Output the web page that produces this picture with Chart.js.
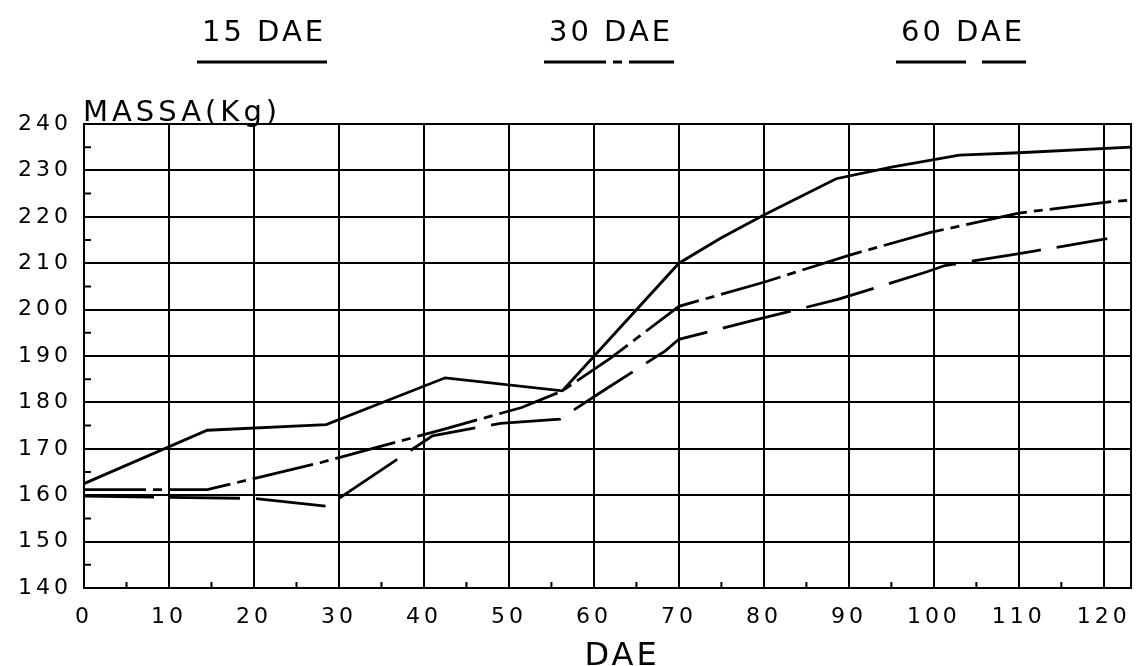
<!DOCTYPE html>
<html>
<head>
<meta charset="utf-8">
<script src="https://cdn.jsdelivr.net/npm/chart.js@4/dist/chart.umd.min.js"></script>
<style>
html, body { margin: 0; padding: 0; background: #fff; }
</style>
</head>
<body>
<canvas id="grafico" width="1141" height="666"></canvas>
<script>
// DIAS APOS EMERGENCIA (DAE) E MASSA (Kg) DE CADA CURVA
var dias15  = [0, 14.5, 28.5, 42.5, 56.3, 70, 75, 80, 88.5, 95, 103, 110, 123.2];
var massa15 = [162.5, 174, 175.2, 185.3, 182.5, 210, 215.5, 220.4, 228.2, 230.7, 233.3, 233.8, 235];

var dias30  = [0, 14.5, 28, 42.5, 51.5, 56.2, 62, 70, 80, 90, 99.5, 110, 121, 123.2];
var massa30 = [161.2, 161.2, 167.1, 174.3, 178.9, 182.4, 189.6, 200.7, 205.9, 211.7, 216.6, 220.8, 223.3, 223.6];

var dias60  = [0, 20, 28.7, 30.4, 41, 49, 56, 61, 68.4, 70, 78.4, 88.7, 99.1, 101.3, 109.5, 111.8, 120.4];
var massa60 = [159.8, 159.3, 157.6, 159.8, 172.8, 175.5, 176.4, 182.4, 191.1, 193.6, 197.5, 202.2, 208.1, 209.5, 211.9, 212.6, 215.3];

// ROTULOS DOS EIXOS
var ticksX = [0, 10, 20, 30, 40, 50, 60, 70, 80, 90, 100, 110, 120];
var ticksY = [140, 150, 160, 170, 180, 190, 200, 210, 220, 230, 240];
var legendas = ['15 DAE', '30 DAE', '60 DAE'];

function pontos(xs, ys) {
  return xs.map(function (x, i) { return {x: x, y: ys[i]}; });
}

Chart.defaults.font.family = 'DejaVu Sans';
Chart.defaults.color = '#000';

// textos, legenda, marcas menores e borda
var desenhoExtra = {
  id: 'desenhoExtra',
  beforeDraw: function (chart) {
    chart.ctx.letterSpacing = '4px';
  },
  afterDraw: function (chart) {
    var ctx = chart.ctx;
    var area = chart.chartArea;
    var sx = chart.scales.x, sy = chart.scales.y;
    ctx.save();
    ctx.strokeStyle = '#000';
    ctx.lineWidth = 2;
    ctx.setLineDash([]);
    ctx.strokeRect(area.left, area.top, area.right - area.left, area.bottom - area.top);

    // marcas menores
    ctx.beginPath();
    for (var v = 145; v < 240; v += 10) {
      var py = sy.getPixelForValue(v);
      ctx.moveTo(area.left, py);
      ctx.lineTo(area.left + 7, py);
    }
    for (var h = 5; h < 120; h += 10) {
      var px = sx.getPixelForValue(h);
      ctx.moveTo(px, area.bottom);
      ctx.lineTo(px, area.bottom - 6);
    }
    ctx.stroke();

    ctx.fillStyle = '#000';
    ctx.textBaseline = 'alphabetic';
    ctx.textAlign = 'left';
    ctx.letterSpacing = '4px';
    ctx.font = '29px "DejaVu Sans"';
    ctx.fillText('MASSA(Kg)', 83, 121);

    ctx.textAlign = 'center';
    ctx.letterSpacing = '3px';
    ctx.font = '32px "DejaVu Sans"';
    ctx.fillText('DAE', 622, 665);

    // LEGENDA
    var centros = [262, 609, 961];
    ctx.font = '29px "DejaVu Sans"';
    ctx.letterSpacing = '3px';
    chart.data.datasets.forEach(function (ds, i) {
      ctx.fillText(legendas[i], centros[i] + 2, 41);
      ctx.beginPath();
      ctx.lineWidth = 2.8;
      ctx.setLineDash(ds.borderDash || []);
      ctx.moveTo(centros[i] - 65, 62);
      ctx.lineTo(centros[i] + 65, 62);
      ctx.stroke();
    });
    ctx.restore();
  }
};

var grafico = new Chart(document.getElementById('grafico'), {
  type: 'line',
  data: {
    datasets: [
      {label: legendas[0], data: pontos(dias15, massa15), borderColor: '#000', borderWidth: 2.8, borderDash: []},
      {label: legendas[1], data: pontos(dias30, massa30), borderColor: '#000', borderWidth: 2.8, borderDash: [62, 7, 9, 7]},
      {label: legendas[2], data: pontos(dias60, massa60), borderColor: '#000', borderWidth: 2.8, borderDash: [70, 16]}
    ]
  },
  options: {
    responsive: false,
    animation: false,
    devicePixelRatio: 1,
    layout: {padding: {top: 124, right: 6, left: 0, bottom: 0}},
    elements: {point: {radius: 0}, line: {tension: 0}},
    plugins: {legend: {display: false}, tooltip: {enabled: false}},
    scales: {
      x: {
        type: 'linear',
        min: 0,
        max: 123.2,
        afterBuildTicks: function (scale) {
          scale.ticks = ticksX.map(function (v) { return {value: v}; });
        },
        afterFit: function (scale) { scale.height = 78; },
        grid: {color: '#000', lineWidth: 2, drawTicks: false},
        border: {color: '#000', width: 2},
        ticks: {font: {size: 22}, padding: 16, maxRotation: 0, autoSkip: false}
      },
      y: {
        min: 140,
        max: 240,
        afterBuildTicks: function (scale) {
          scale.ticks = ticksY.map(function (v) { return {value: v}; });
        },
        afterFit: function (scale) { scale.width = 84; },
        grid: {color: '#000', lineWidth: 2, drawTicks: false},
        border: {color: '#000', width: 2},
        ticks: {font: {size: 22}, padding: 12, autoSkip: false}
      }
    }
  },
  plugins: [desenhoExtra]
});
</script>
</body>
</html>
